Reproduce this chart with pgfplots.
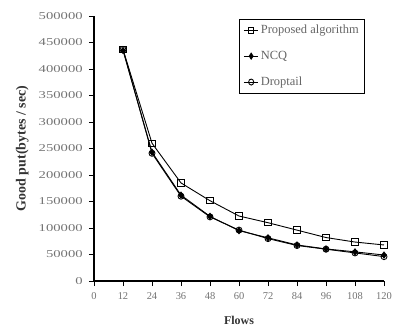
\documentclass[border=0pt]{standalone}
\usepackage{pgfplots}
\pgfplotsset{compat=1.18}
\usepackage{fontspec}
\setmainfont{Liberation Serif}
\begin{document}
\begin{tikzpicture}
\begin{axis}[
  scale only axis, width=290bp, height=265bp,
  xmin=0, xmax=120, ymin=0, ymax=500000,
  axis lines=left, axis line style={-, line width=1.1pt},
  xtick={0,12,...,120}, ytick={0,50000,...,500000},
  scaled y ticks=false,
  /pgf/number format/assume math mode=true,
  yticklabel style={/pgf/number format/fixed, /pgf/number format/1000 sep={}, font=\fontsize{10.5}{12}\selectfont, text=black!55, xscale=1.4, anchor=east, xshift=-1bp},
  xticklabel style={font=\fontsize{10.5}{12}\selectfont, text=black!55, yshift=-3bp},
  tick style={black, line width=0.9pt}, tick align=outside, major tick length=5bp,
  ylabel={\textbf{Good put(bytes / sec)}}, ylabel style={font=\fontsize{14}{16}\selectfont, text=black!80, yshift=2bp},
  xlabel={\textbf{Flows}}, xlabel style={font=\fontsize{12}{14}\selectfont, text=black!80, yshift=-10bp},
  legend style={at={(rel axis cs:0.5,0.99)}, anchor=north west, draw=black, line width=1pt,
    font=\fontsize{12.5}{14}\selectfont, row sep=12bp, inner sep=4bp, text=black!60},
  legend cell align=left,
  legend image post style={xscale=0.85},
  every axis plot/.append style={line width=0.9pt, black},
]
\coordinate (A) at (rel axis cs:0,0);
\coordinate (B) at (rel axis cs:1,1);
\addplot[mark=square, mark size=3.2bp, mark options={fill=white, line width=0.9pt}] coordinates {
(12,437000)(24,260000)(36,185000)(48,151500)(60,122600)(72,110000)(84,96000)(96,82000)(108,73500)(120,68000)};
\addlegendentry{Proposed algorithm}
\addplot[mark=diamond*, mark size=3bp, mark options={fill=black}] coordinates {
(12,435000)(24,243000)(36,162000)(48,122000)(60,95000)(72,81500)(84,68000)(96,60500)(108,55000)(120,49000)};
\addlegendentry{NCQ}
\addplot[mark=o, mark size=3bp, mark options={fill=white, line width=0.9pt}] coordinates {
(12,437000)(24,241000)(36,160000)(48,121000)(60,96000)(72,80000)(84,67000)(96,60000)(108,53000)(120,46000)};
\addlegendentry{Droptail}
\end{axis}
\pgfresetboundingbox
\path ([shift={(-94bp,-46bp)}]A) rectangle ([shift={(9bp,16bp)}]B);
\end{tikzpicture}
\end{document}
